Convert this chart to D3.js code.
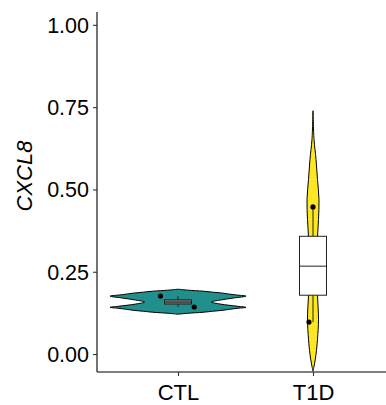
<!DOCTYPE html>
<html>
<head>
<meta charset="utf-8">
<script src="https://cdn.jsdelivr.net/npm/d3@7"></script>
<style>
  html, body { margin: 0; padding: 0; background: #ffffff; }
  svg { display: block; }
</style>
</head>
<body>
<div id="chart"></div>
<script>
// categories and colours
const groups = ["CTL", "T1D"];
const groupColors = ["#21908C", "#FDE725"];
const yTicks = [0, 0.25, 0.5, 0.75, 1.0];

// violin outlines: value along y and relative density
const ctlViolinValue = [0.197, 0.194, 0.191, 0.188, 0.185, 0.182, 0.179, 0.176, 0.170, 0.164, 0.158,
                        0.152, 0.145, 0.142, 0.139, 0.136, 0.133, 0.130, 0.127, 0.124, 0.121];
const ctlViolinDensity = [0, 0.15, 0.37, 0.51, 0.66, 0.76, 0.88, 1.0, 0.81, 0.62, 0.49,
                          0.62, 0.88, 1.0, 0.88, 0.76, 0.66, 0.51, 0.37, 0.15, 0];
const t1dViolinValue = [0.739, 0.652, 0.591, 0.530, 0.470, 0.409, 0.355, 0.288, 0.227, 0.179,
                        0.106, 0.045, 0.0, -0.030, -0.052];
const t1dViolinDensity = [0, 0.015, 0.045, 0.066, 0.088, 0.081, 0.066, 0.06, 0.06, 0.066,
                          0.081, 0.066, 0.045, 0.022, 0];

// samples per group
const ctlValues = [0.143, 0.155, 0.161, 0.176];
const t1dValues = [0.097, 0.206, 0.328, 0.447];
// visible jittered points: group, value, horizontal offset in band units
const pointGroup = ["CTL", "CTL", "T1D", "T1D"];
const pointValue = [0.176, 0.143, 0.447, 0.097];
const pointJitter = [-0.13, 0.12, 0.0, -0.03];

const width = 386;
const height = 405;
const margin = { top: 12, right: -8, bottom: 33, left: 97 };

const svg = d3.select("#chart")
  .append("svg")
  .attr("width", width)
  .attr("height", height)
  .style("font-family", "Arial, 'Liberation Sans', sans-serif");

const x = d3.scalePoint()
  .domain(groups)
  .range([margin.left, width - margin.right])
  .padding(0.6);
const step = x.step();

const y = d3.scaleLinear()
  .domain([-0.0545, 1.039])
  .range([height - margin.bottom, margin.top]);

const densityPx = d3.scaleLinear().domain([0, 1]).range([0, 68]);

const violins = [
  { group: "CTL", value: ctlViolinValue, density: ctlViolinDensity, color: groupColors[0] },
  { group: "T1D", value: t1dViolinValue, density: t1dViolinDensity, color: groupColors[1] },
];

const plot = svg.append("g");

violins.forEach((v) => {
  const rows = v.value.map((val, i) => ({ val, d: v.density[i] }));
  const area = d3.area()
    .y((r) => y(r.val))
    .x0((r) => x(v.group) - densityPx(r.d))
    .x1((r) => x(v.group) + densityPx(r.d))
    .curve(d3.curveCatmullRom.alpha(0.5));
  plot.append("path")
    .datum(rows)
    .attr("d", area)
    .attr("fill", v.color)
    .attr("stroke", "#000000")
    .attr("stroke-width", 1);
});

// boxplots
const boxes = [
  { group: "CTL", values: ctlValues, fill: "#7f7f7f", w: 0.2 },
  { group: "T1D", values: t1dValues, fill: "#ffffff", w: 0.2 },
];
boxes.forEach((b) => {
  const s = b.values.slice().sort(d3.ascending);
  const q1 = d3.quantile(s, 0.25);
  const med = d3.quantile(s, 0.5);
  const q3 = d3.quantile(s, 0.75);
  const lo = d3.min(s);
  const hi = d3.max(s);
  const cx = x(b.group);
  const half = (b.w * step) / 2;
  const g = plot.append("g").attr("stroke", "#222222").attr("stroke-width", 1);
  g.append("line").attr("x1", cx).attr("x2", cx).attr("y1", y(hi)).attr("y2", y(q3));
  g.append("line").attr("x1", cx).attr("x2", cx).attr("y1", y(q1)).attr("y2", y(lo));
  g.append("rect")
    .attr("x", cx - half)
    .attr("width", half * 2)
    .attr("y", y(q3))
    .attr("height", y(q1) - y(q3))
    .attr("fill", b.fill);
  g.append("line").attr("x1", cx - half).attr("x2", cx + half).attr("y1", y(med)).attr("y2", y(med));
});

// points
plot.selectAll("circle.pt")
  .data(pointValue.map((v, i) => ({ v, g: pointGroup[i], j: pointJitter[i] })))
  .enter()
  .append("circle")
  .attr("class", "pt")
  .attr("cx", (p) => x(p.g) + p.j * step)
  .attr("cy", (p) => y(p.v))
  .attr("r", 2.6)
  .attr("fill", "#000000");

// axes
const yAxis = svg.append("g")
  .attr("transform", `translate(${margin.left},0)`)
  .call(d3.axisLeft(y).tickValues(yTicks).tickFormat(d3.format(".2f")).tickSize(4).tickPadding(4));
const xAxis = svg.append("g")
  .attr("transform", `translate(0,${height - margin.bottom})`)
  .call(d3.axisBottom(x).tickSize(4).tickPadding(8));

[yAxis, xAxis].forEach((ax) => {
  ax.select(".domain").attr("stroke", "#000000").attr("stroke-width", 1.1);
  ax.selectAll(".tick line").attr("stroke", "#333333").attr("stroke-width", 1.1);
  ax.selectAll(".tick text").attr("fill", "#000000").style("font-family", "Arial, 'Liberation Sans', sans-serif");
});
yAxis.select(".domain").attr("d", `M0,${y.range()[1]}V${y.range()[0]}`);
xAxis.select(".domain").attr("d", `M${margin.left},0H${width}`);
yAxis.selectAll(".tick text").style("font-size", "21.5px").attr("dy", "0.35em");
xAxis.selectAll(".tick text").style("font-size", "22px");

svg.append("text")
  .attr("transform", `translate(32,176) rotate(-90)`)
  .attr("text-anchor", "middle")
  .style("font-size", "22px")
  .style("font-style", "italic")
  .attr("fill", "#000000")
  .text("CXCL8");
</script>
</body>
</html>
